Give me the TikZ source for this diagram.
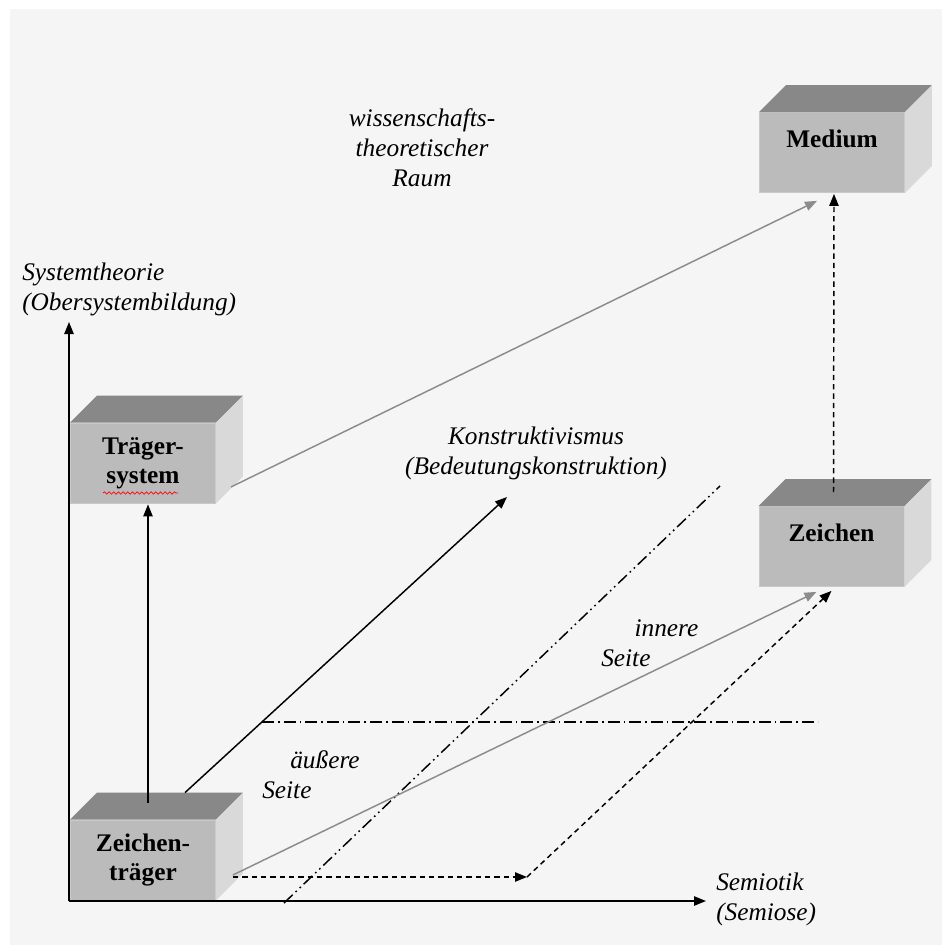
\documentclass[tikz,border=0pt]{standalone}
\usepackage{fontspec}
\setmainfont{Liberation Serif}
\usetikzlibrary{calc,arrows.meta,decorations.pathmorphing}

\definecolor{bgcol}{HTML}{F5F5F5}
\definecolor{frontcol}{HTML}{BBBBBB}
\definecolor{topcol}{HTML}{888888}
\definecolor{sidecol}{HTML}{D9D9D9}
\definecolor{greyline}{HTML}{8C8C8C}

\tikzset{
  cube/.style={rectangle, fill=frontcol, draw=frontcol!80!white, line width=0.6pt,
    minimum width=108.75pt, minimum height=60pt, inner sep=0pt, align=center,
    font=\fontsize{19}{21.5}\selectfont\bfseries},
  lbl/.style={inner sep=0pt, font=\fontsize{19}{22.5}\selectfont\itshape},
  tip/.style={-{Triangle[length=9pt,width=7pt]}},
  blackarrow/.style={tip, line width=1.1pt, black},
  greyarrow/.style={tip, line width=1.1pt, greyline},
  dasharrow/.style={tip, line width=1.1pt, black, dash pattern=on 4pt off 3pt},
  dashdotline/.style={line width=1.1pt, black, dash pattern=on 9pt off 3pt on 1.2pt off 3pt},
  dashdotdotline/.style={line width=1.1pt, black, dash pattern=on 9pt off 3pt on 1.2pt off 3pt on 1.2pt off 3pt},
  axis/.style={tip, line width=1.1pt, black}
}

% top and right faces of a box whose front face is node #1
\newcommand{\boxfaces}[1]{%
  \fill[topcol] (#1.north west) -- ++(27,-27) -- ($(#1.north east)+(27,-27)$) -- (#1.north east) -- cycle;
  \fill[sidecol] (#1.north east) -- ++(27,-27) -- ($(#1.south east)+(27,-27)$) -- (#1.south east) -- cycle;
}

\begin{document}
\begin{tikzpicture}[x=0.75pt,y=-0.75pt]
  % canvas
  \useasboundingbox (0,0) rectangle (942,945);
  \fill[white] (0,0) rectangle (942,945);
  \fill[bgcol] (10,9) rectangle (942,945);

  % boxes
  \node[cube] (tr) at (143,463) {Träger-\\system};
  \boxfaces{tr}
  \node[cube] (zt) at (143,860) {Zeichen-\\träger};
  \boxfaces{zt}
  \node[cube] (md) at (832,152.5) {Medium\\[-7pt]\strut};
  \boxfaces{md}
  \node[cube] (zc) at (831.5,546.5) {Zeichen\\[-7pt]\strut};
  \boxfaces{zc}

  % spelling squiggle under "system"
  \draw[red, line width=0.5pt, decorate, decoration={snake, amplitude=0.9, segment length=3.5}]
    ($(tr.center)+(-40,30)$) -- ($(tr.center)+(35,30)$);

  % axes
  \coordinate (origin) at (69,901);
  \coordinate (ytip) at (69,322);
  \coordinate (xtip) at (706,901);
  \draw[axis] (origin) -- (ytip);
  \draw[axis] (origin) -- (xtip);

  % axis and field labels
  \node[lbl, anchor=west, align=left] (sys) at (22,289) {Systemtheorie\\(Obersystembildung)};
  \node[lbl, anchor=west, align=left] (sem) at (716,899) {Semiotik\\(Semiose)};
  \node[lbl, align=center] (kon) at (536,453) {Konstruktivismus\\(Bedeutungskonstruktion)};
  \node[lbl, align=center] (raum) at (422,148) {wissenschafts-\\theoretischer\\Raum};
  \node[lbl, anchor=west, align=left] (aus) at (262,775) {\hspace*{21pt}äußere\\Seite};
  \node[lbl, anchor=west, align=left] (inn) at (601,643) {\hspace*{25pt}innere\\Seite};

  % borderlines between outer and inner side
  \coordinate (hA) at (262,722);
  \coordinate (hB) at (818,722);
  \draw[dashdotline] (hA) -- (hB);
  \coordinate (dA) at (284,903);
  \coordinate (dB) at (720,486);
  \draw[dashdotdotline] (dA) -- (dB);

  % connectors
  \draw[blackarrow] ($(zt.north)+(5,-17)$) -- ($(tr.south)+(5,1)$);
  \coordinate (kend) at (507,497);
  \draw[blackarrow] ($(zt.north)+(42,-27)$) -- (kend);
  \draw[greyarrow] ($(tr.east)+(15,24)$) -- ($(md.south)+(-15,8)$);
  \draw[dasharrow] ($(zc.north)+(2,-14)$) -- ($(md.south)+(2,1)$);
  \draw[greyarrow] ($(zt.east)+(17,15)$) -- ($(zc.south)+(-15,5)$);
  \coordinate (bend) at (527,877);
  \draw[dasharrow] ($(zt.east)+(17,17)$) -- (bend);
  \draw[dasharrow] (bend) -- ($(zc.south)+(0,4)$);
\end{tikzpicture}
\end{document}
